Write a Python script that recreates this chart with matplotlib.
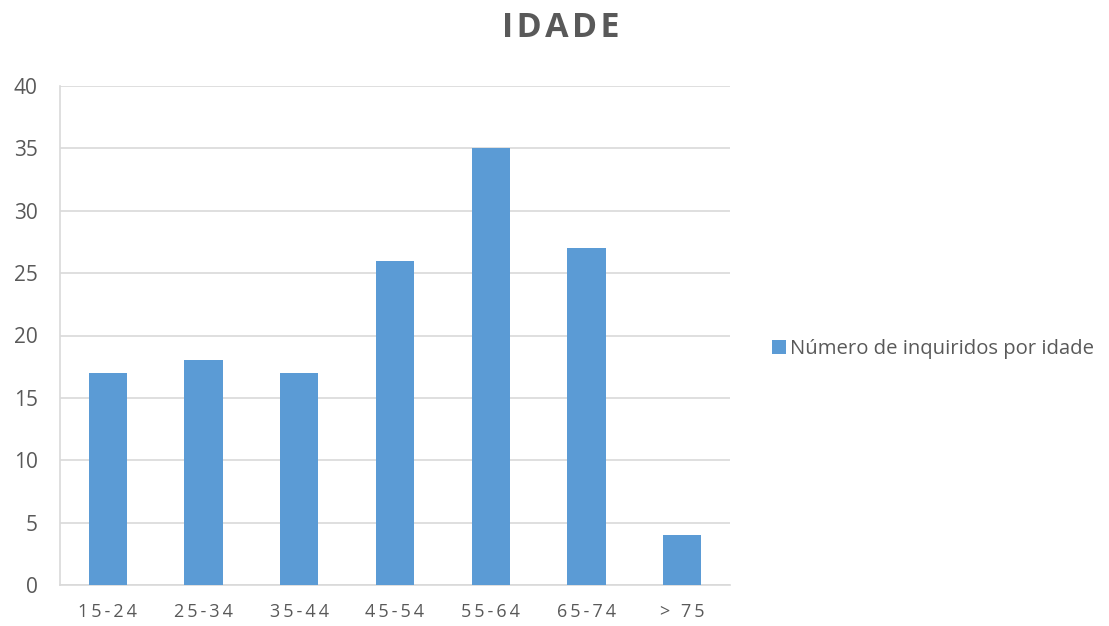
import matplotlib
matplotlib.use("Agg")
import matplotlib.pyplot as plt
from matplotlib.patches import Patch

plt.rcParams['font.family'] = ['Open Sans', 'DejaVu Sans']

categories = ["15-24", "25-34", "35-44", "45-54", "55-64", "65-74", "> 75"]
values = [17, 18, 17, 26, 35, 27, 4]
series_name = "Número de inquiridos por idade"
title = "IDADE"

bar_color = "#5B9BD5"
text_color = "#595959"
grid_color = "#D9D9D9"


def spaced(s, sep="\u2009"):
    return sep.join(s)


fig = plt.figure(figsize=(11.09, 6.26), dpi=100)
ax = fig.add_axes([60 / 1109, 1 - 585 / 626, 670 / 1109, 499 / 626])

x = range(len(categories))
ax.bar(x, values, width=0.4, color=bar_color, zorder=3)

ax.set_xlim(-0.5, len(categories) - 0.5)
ax.set_ylim(0, 40)
ax.set_yticks(range(0, 41, 5))
ax.set_xticks(list(x))
ax.set_xticklabels([spaced(c) for c in categories])

ax.yaxis.grid(True, color=grid_color, linewidth=1.2, zorder=0)
ax.set_axisbelow(True)
for side in ("top", "right"):
    ax.spines[side].set_visible(False)
ax.spines["left"].set_color(grid_color)
ax.spines["bottom"].set_color(grid_color)
ax.spines["left"].set_linewidth(1.2)
ax.spines["bottom"].set_linewidth(1.2)

ax.tick_params(axis="both", length=0, colors=text_color)
ax.tick_params(axis="y", labelsize=15, pad=16)
ax.tick_params(axis="x", labelsize=13, pad=13)

fig.text(561 / 1109, 1 - 28 / 626, spaced(title, "\u200a"), ha="center", va="center",
         fontsize=24.5, fontweight="bold", color=text_color)

handle = Patch(facecolor=bar_color, edgecolor="none")
fig.legend([handle], [series_name], loc="center left",
           bbox_to_anchor=(764 / 1109, 1 - 349 / 626), frameon=False,
           fontsize=14.6, labelcolor=text_color, handlelength=0.7,
           handleheight=0.7, handletextpad=0.2, borderaxespad=0)

fig.savefig("out.png", dpi=100)
